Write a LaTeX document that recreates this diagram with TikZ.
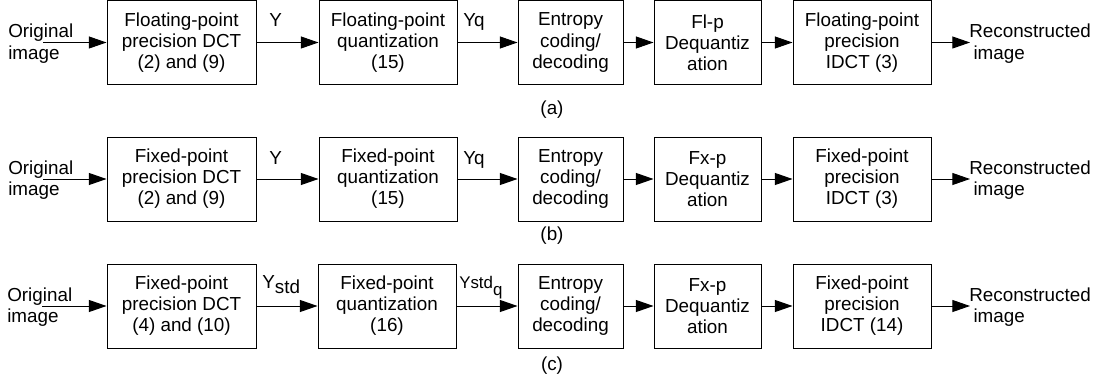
\documentclass[tikz,border=0pt]{standalone}
\usepackage{fontspec}
\setmainfont{Liberation Sans}
\usetikzlibrary{arrows.meta}

\begin{document}
\begin{tikzpicture}[x=0.025cm, y=-0.025cm,
    every node/.style={font=\fontsize{13.4}{15}\selectfont},
    block/.style={draw, line width=0.7pt, align=center, inner sep=0pt, minimum height=84*0.025cm},
    io/.style={align=left, inner sep=0pt, anchor=north west},
    sig/.style={inner sep=0pt, anchor=base west},
    flow/.style={line width=0.7pt, -{Triangle[length=12.5pt, width=8.5pt]}}]
  \useasboundingbox (0,0) rectangle (1105,387);

  % row (a)
  \node[block, minimum width=149*0.025cm] (a1) at (181.5,42.5) {Floating-point\\precision DCT\\(2) and (9)};
  \node[block, minimum width=138*0.025cm] (a2) at (388,42.5) {Floating-point\\quantization\\(15)};
  \node[block, minimum width=105*0.025cm] (a3) at (570.5,42.5) {Entropy\\coding/\\decoding};
  \node[block, minimum width=107*0.025cm] (a4) at (707.5,42.5) {Fl-p\\Dequantiz\\ation};
  \node[block, minimum width=138*0.025cm] (a5) at (862,42.5) {Floating-point\\precision\\IDCT (3)};
  \node[io] (ina) at (8,24) {Original\\image};
  \node[io] (outa) at (969,24) {Reconstructed\\\hspace{3pt}image};
  \coordinate (sa) at (43,42.5);
  \coordinate (ea) at (970,42.5);
  \draw[flow] (sa) -- (a1);
  \draw[flow] (a1) -- (a2);
  \draw[flow] (a2) -- (a3);
  \draw[flow] (a3) -- (a4);
  \draw[flow] (a4) -- (a5);
  \draw[flow] (a5) -- (ea);
  \node[sig] (ya) at (269,27) {Y};
  \node[sig] (yqa) at (463,27) {Yq};
  \node (capa) at (552,110) {(a)};

  % row (b)
  \node[block, minimum width=149*0.025cm] (b1) at (181.5,179) {Fixed-point\\precision DCT\\(2) and (9)};
  \node[block, minimum width=138*0.025cm] (b2) at (388,179) {Fixed-point\\quantization\\(15)};
  \node[block, minimum width=105*0.025cm] (b3) at (570.5,179) {Entropy\\coding/\\decoding};
  \node[block, minimum width=107*0.025cm] (b4) at (707.5,179) {Fx-p\\Dequantiz\\ation};
  \node[block, minimum width=138*0.025cm] (b5) at (862,179) {Fixed-point\\precision\\IDCT (3)};
  \node[io] (inb) at (8,160.5) {Original\\image};
  \node[io] (outb) at (969,160.5) {Reconstructed\\\hspace{3pt}image};
  \coordinate (sb) at (43,179);
  \coordinate (eb) at (970,179);
  \draw[flow] (sb) -- (b1);
  \draw[flow] (b1) -- (b2);
  \draw[flow] (b2) -- (b3);
  \draw[flow] (b3) -- (b4);
  \draw[flow] (b4) -- (b5);
  \draw[flow] (b5) -- (eb);
  \node[sig] (yb) at (269,164) {Y};
  \node[sig] (yqb) at (463,164) {Yq};
  \node (capb) at (552,236) {(b)};

  % row (c)
  \node[block, minimum width=149*0.025cm] (c1) at (181.5,306) {Fixed-point\\precision DCT\\(4) and (10)};
  \node[block, minimum width=138*0.025cm] (c2) at (387,306) {Fixed-point\\quantization\\(16)};
  \node[block, minimum width=105*0.025cm] (c3) at (570.5,306) {Entropy\\coding/\\decoding};
  \node[block, minimum width=107*0.025cm] (c4) at (707.5,306) {Fx-p\\Dequantiz\\ation};
  \node[block, minimum width=138*0.025cm] (c5) at (862,306) {Fixed-point\\precision\\IDCT (14)};
  \node[io] (inc) at (7,287.5) {Original\\image};
  \node[io] (outc) at (969,287.5) {Reconstructed\\\hspace{3pt}image};
  \coordinate (sc) at (42,306);
  \coordinate (ec) at (970,306);
  \draw[flow] (sc) -- (c1);
  \draw[flow] (c1) -- (c2);
  \draw[flow] (c2) -- (c3);
  \draw[flow] (c3) -- (c4);
  \draw[flow] (c4) -- (c5);
  \draw[flow] (c5) -- (ec);
  \node[sig] (ystd) at (262,288) {Y\raisebox{-4pt}{std}};
  \node[sig, font=\fontsize{12}{14}\selectfont] (ystdq) at (459,288) {Ystd\raisebox{-5pt}{q}};
  \node (capc) at (552,366) {(c)};
\end{tikzpicture}
\end{document}
